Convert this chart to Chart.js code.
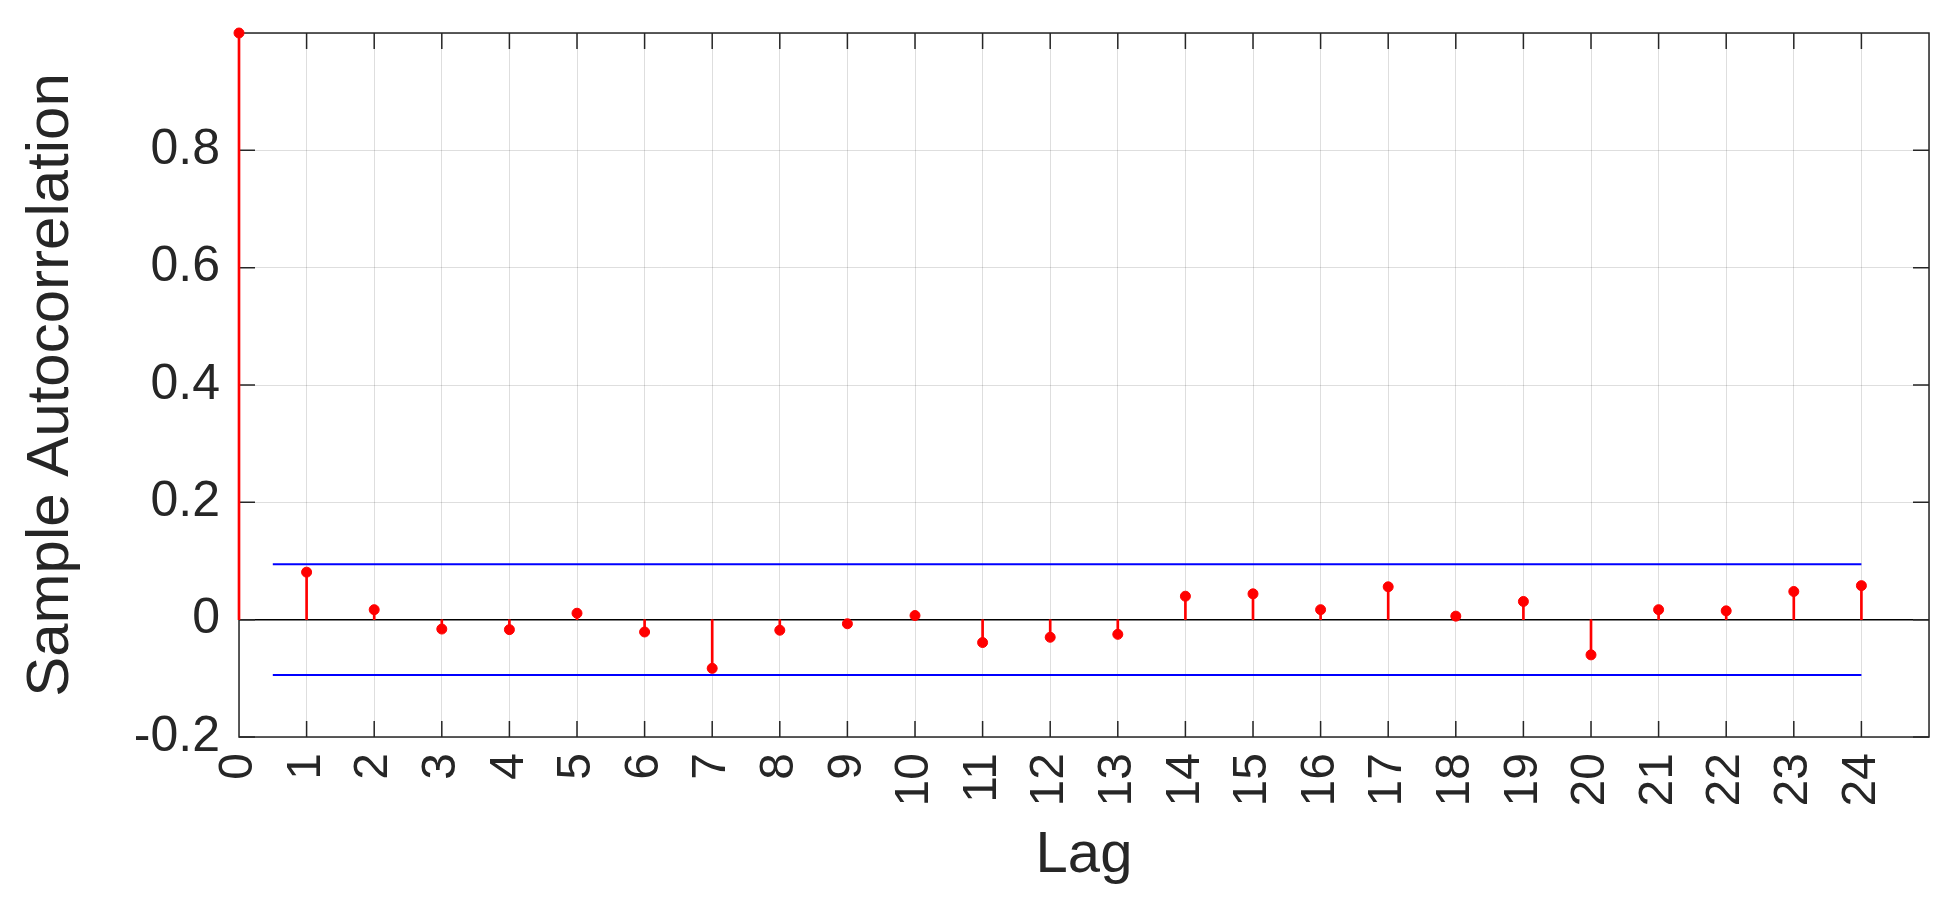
<!DOCTYPE html>
<html>
<head>
<meta charset="utf-8">
<style>
  html, body { margin: 0; padding: 0; background: #fff; }
  #acfChart { display: block; }
</style>
<script src="https://cdn.jsdelivr.net/npm/chart.js@4/dist/chart.umd.min.js"></script>
</head>
<body>
<canvas id="acfChart" width="1951" height="911"></canvas>
<script>
// sample autocorrelation, lags 0..24
const lags = [0, 1, 2, 3, 4, 5, 6, 7, 8, 9, 10, 11, 12, 13, 14, 15, 16, 17, 18, 19, 20, 21, 22, 23, 24];
const acf = [1, 0.081, 0.017, -0.016, -0.017, 0.011, -0.021, -0.083, -0.018, -0.007, 0.007,
  -0.039, -0.030, -0.025, 0.040, 0.044, 0.017, 0.056, 0.006, 0.031, -0.060, 0.017, 0.015, 0.048, 0.058];

// confidence bounds
const boundLags = [0.5, 24];
const upperBound = [0.0945, 0.0945];
const lowerBound = [-0.0945, -0.0945];

const yTickLabels = [-0.2, 0, 0.2, 0.4, 0.6, 0.8];

const textColor = '#262626';
const fontFamily = "'Liberation Sans', Arial, Helvetica, sans-serif";

const stemPoints = lags.map((lag, i) => ({ x: lag, y: acf[i] }));

// box around the axes plus inward tick marks, matlab style
const boxPlugin = {
  id: 'box',
  beforeDatasetsDraw(chart) {
    const { ctx, chartArea: a, scales } = chart;
    const len = 16;
    ctx.save();
    ctx.strokeStyle = textColor;
    ctx.lineWidth = 1.5;
    ctx.beginPath();
    lags.forEach((lag) => {
      if (lag === 0) return;
      const px = scales.x.getPixelForValue(lag);
      ctx.moveTo(px, a.bottom);
      ctx.lineTo(px, a.bottom - len);
      ctx.moveTo(px, a.top);
      ctx.lineTo(px, a.top + len);
    });
    yTickLabels.forEach((v) => {
      const py = scales.y.getPixelForValue(v);
      ctx.moveTo(a.left, py);
      ctx.lineTo(a.left + len, py);
      ctx.moveTo(a.right, py);
      ctx.lineTo(a.right - len, py);
    });
    ctx.stroke();
    ctx.strokeRect(a.left, a.top, a.right - a.left, a.bottom - a.top);
    ctx.restore();
  },
};

const ctx = document.getElementById('acfChart').getContext('2d');
new Chart(ctx, {
  type: 'scatter',
  data: {
    datasets: [
      {
        type: 'line',
        data: boundLags.map((x, i) => ({ x, y: upperBound[i] })),
        borderColor: '#0000ff',
        borderWidth: 2,
        pointRadius: 0,
        fill: false,
      },
      {
        type: 'line',
        data: boundLags.map((x, i) => ({ x, y: lowerBound[i] })),
        borderColor: '#0000ff',
        borderWidth: 2,
        pointRadius: 0,
        fill: false,
      },
      {
        type: 'bar',
        data: stemPoints,
        backgroundColor: '#ff0000',
        borderWidth: 0,
        barThickness: 2,
        clip: false,
      },
      {
        type: 'scatter',
        data: stemPoints,
        backgroundColor: '#ff0000',
        borderColor: '#ff0000',
        pointRadius: 5,
        pointHoverRadius: 5,
        clip: false,
      },
    ],
  },
  options: {
    responsive: false,
    animation: false,
    events: [],
    layout: { padding: { top: 33, right: 22, left: 0, bottom: 0 } },
    plugins: {
      legend: { display: false },
      tooltip: { enabled: false },
    },
    scales: {
      x: {
        type: 'linear',
        min: 0,
        max: 25,
        offset: false,
        afterFit(scale) {
          scale.height = 174;
          scale.paddingLeft = 0;
          scale.paddingRight = 0;
        },
        grid: {
          offset: false,
          drawTicks: false,
          color: 'rgba(0, 0, 0, 0.13)',
          lineWidth: 1,
        },
        border: { display: false },
        ticks: {
          stepSize: 1,
          minRotation: 90,
          maxRotation: 90,
          autoSkip: false,
          padding: 16,
          color: textColor,
          font: { family: fontFamily, size: 48 },
          callback: (v) => (v <= 24 ? String(v) : ''),
        },
        title: {
          display: true,
          text: 'Lag',
          color: textColor,
          font: { family: fontFamily, size: 58 },
          padding: { top: 0, bottom: 20 },
        },
      },
      y: {
        min: -0.2,
        max: 1,
        afterFit(scale) {
          scale.width = 239;
          scale.paddingTop = 0;
          scale.paddingBottom = 0;
        },
        grid: {
          drawTicks: false,
          color: (c) => (c.tick && Math.abs(c.tick.value) < 1e-9 ? '#000000' : 'rgba(0, 0, 0, 0.13)'),
          lineWidth: (c) => (c.tick && Math.abs(c.tick.value) < 1e-9 ? 1.5 : 1),
        },
        border: { display: false },
        ticks: {
          stepSize: 0.2,
          padding: 19,
          color: textColor,
          font: { family: fontFamily, size: 50 },
          callback: (v) => (yTickLabels.some((t) => Math.abs(t - v) < 1e-9) ? String(Math.round(v * 10) / 10) : ''),
        },
        title: {
          display: true,
          text: 'Sample Autocorrelation',
          color: textColor,
          font: { family: fontFamily, size: 60 },
          padding: { top: 15, bottom: 0 },
        },
      },
    },
  },
  plugins: [boxPlugin],
});
</script>
</body>
</html>
